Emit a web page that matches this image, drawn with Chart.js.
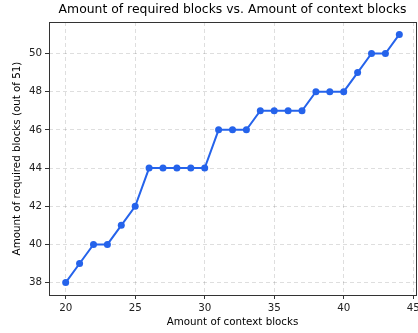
<!DOCTYPE html>
<html>
<head>
<meta charset="utf-8">
<script src="https://cdn.jsdelivr.net/npm/chart.js@4/dist/chart.umd.min.js"></script>
<style>
  html, body { margin: 0; padding: 0; background: #fff; }
  #wrap { width: 418px; height: 333px; }
</style>
</head>
<body>
<div id="wrap"><canvas id="c" width="418" height="333"></canvas></div>
<script>
// Context blocks supplied vs. blocks required
const contextBlocks = [20, 21, 22, 23, 24, 25, 26, 27, 28, 29, 30, 31, 32, 33, 34, 35, 36, 37, 38, 39, 40, 41, 42, 43, 44];
const requiredBlocks = [38, 39, 40, 40, 41, 42, 44, 44, 44, 44, 44, 46, 46, 46, 47, 47, 47, 47, 48, 48, 48, 49, 50, 50, 51];
const xTickValues = [20, 25, 30, 35, 40, 45];
const yTickValues = [38, 40, 42, 44, 46, 48, 50];

const chartTitle = 'Amount of required blocks vs. Amount of context blocks';
const xLabel = 'Amount of context blocks';
const yLabel = 'Amount of required blocks (out of 51)';

const FONT = "'DejaVu Sans', sans-serif";
const BLUE = '#2563eb';

// Plot box edges (right spine at x = 416, the last tick label runs off the canvas)
const PLOT_LEFT = 49, PLOT_RIGHT = 416, PLOT_TOP = 22, PLOT_BOTTOM = 295;

// Full box frame around the plotting area plus the centred title above it
const framePlugin = {
  id: 'frame',
  afterDraw(chart) {
    const { ctx, chartArea: a } = chart;
    ctx.save();
    ctx.strokeStyle = '#333';
    ctx.lineWidth = 1;
    ctx.strokeRect(Math.round(a.left) + 0.5, Math.round(a.top) + 0.5,
                   Math.round(a.right - a.left), Math.round(a.bottom - a.top));
    ctx.fillStyle = '#000';
    ctx.font = '12.4px ' + FONT;
    ctx.textAlign = 'center';
    ctx.textBaseline = 'middle';
    ctx.fillText(chartTitle, (a.left + a.right) / 2, 10);
    ctx.restore();
  }
};

new Chart(document.getElementById('c'), {
  type: 'line',
  data: {
    datasets: [{
      data: contextBlocks.map((x, i) => ({ x, y: requiredBlocks[i] })),
      borderColor: BLUE,
      backgroundColor: BLUE,
      borderWidth: 2,
      pointRadius: 3.5,
      pointHoverRadius: 3.5,
      pointBorderWidth: 0,
      tension: 0
    }]
  },
  options: {
    responsive: false,
    animation: false,
    layout: { autoPadding: false, padding: { top: PLOT_TOP, right: 418 - PLOT_RIGHT, left: 0, bottom: 0 } },
    plugins: { legend: { display: false }, tooltip: { enabled: false }, title: { display: false } },
    scales: {
      x: {
        type: 'linear',
        min: 18.8,
        max: 45.2,
        afterBuildTicks: s => { s.ticks = xTickValues.map(v => ({ value: v })); },
        afterFit: s => { s.height = 333 - PLOT_BOTTOM; s.paddingLeft = 0; s.paddingRight = 0; },
        grid: { color: 'rgba(0,0,0,0.13)', tickColor: '#333', tickLength: 4, tickBorderDash: [], tickWidth: 1 },
        border: { display: false, dash: [4, 3] },
        ticks: { color: '#222', font: { family: FONT, size: 10.3 }, padding: 3, maxRotation: 0, autoSkip: false },
        title: { display: true, text: xLabel, color: '#000', font: { family: FONT, size: 10.3 }, padding: { top: 1, bottom: 4.5 } }
      },
      y: {
        type: 'linear',
        min: 37.35,
        max: 51.65,
        afterBuildTicks: s => { s.ticks = yTickValues.map(v => ({ value: v })); },
        afterFit: s => { s.width = PLOT_LEFT; s.paddingTop = 0; s.paddingBottom = 0; },
        grid: { color: 'rgba(0,0,0,0.13)', tickColor: '#333', tickLength: 4, tickBorderDash: [], tickWidth: 1 },
        border: { display: false, dash: [4, 3] },
        ticks: { color: '#222', font: { family: FONT, size: 10.3 }, padding: 3, autoSkip: false },
        title: { display: true, text: yLabel, color: '#000', font: { family: FONT, size: 10.3 }, padding: { top: 11.5, bottom: 0 } }
      }
    }
  },
  plugins: [framePlugin]
});
</script>
</body>
</html>
